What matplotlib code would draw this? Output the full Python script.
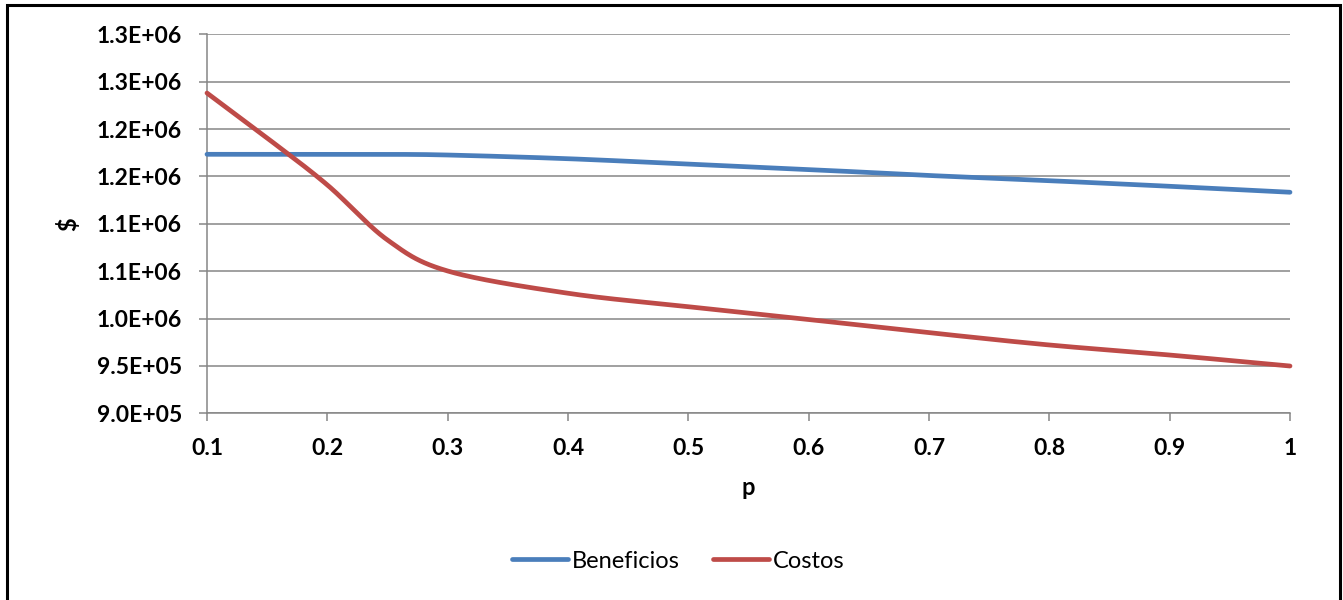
import matplotlib.pyplot as plt
import numpy as np
from matplotlib.patches import Rectangle

# data
p = [0.1, 0.15, 0.2, 0.25, 0.3, 0.4, 0.5, 0.6, 0.7, 0.8, 0.9, 1.0]
beneficios = [1173350, 1173350, 1173350, 1173300, 1172600, 1168700,
              1163000, 1157300, 1151000, 1145500, 1139600, 1133300]
costos = [1238000, 1190500, 1141000, 1082900, 1050200, 1026700,
          1012500, 999000, 985100, 972100, 961500, 949900]

x_ticks = [0.1, 0.2, 0.3, 0.4, 0.5, 0.6, 0.7, 0.8, 0.9, 1.0]
x_labels = ["0.1", "0.2", "0.3", "0.4", "0.5", "0.6", "0.7", "0.8", "0.9", "1"]
y_ticks = [900000, 950000, 1000000, 1050000, 1100000, 1150000, 1200000, 1250000, 1300000]
y_labels = ["9.0E+05", "9.5E+05", "1.0E+06", "1.1E+06", "1.1E+06",
            "1.2E+06", "1.2E+06", "1.3E+06", "1.3E+06"]

FONT = "Lato"
GRID = "#868686"


def smooth_curve(xs, ys, xlim, ylim, width_px, height_px, n=40):
    """Excel-like smoothed line: Catmull-Rom bezier computed in pixel space."""
    u = (np.asarray(xs, float) - xlim[0]) / (xlim[1] - xlim[0]) * width_px
    v = (np.asarray(ys, float) - ylim[0]) / (ylim[1] - ylim[0]) * height_px
    pts = np.column_stack([u, v])
    out = [pts[0]]
    t = np.linspace(0, 1, n)[1:, None]
    for i in range(len(pts) - 1):
        p0 = pts[max(i - 1, 0)]
        p1 = pts[i]
        p2 = pts[i + 1]
        p3 = pts[min(i + 2, len(pts) - 1)]
        c1 = p1 + (p2 - p0) / 6.0
        c2 = p2 - (p3 - p1) / 6.0
        seg = ((1 - t) ** 3) * p1 + 3 * ((1 - t) ** 2) * t * c1 + 3 * (1 - t) * t ** 2 * c2 + t ** 3 * p2
        out.extend(seg)
    out = np.array(out)
    sx = out[:, 0] / width_px * (xlim[1] - xlim[0]) + xlim[0]
    sy = out[:, 1] / height_px * (ylim[1] - ylim[0]) + ylim[0]
    return sx, sy


fig = plt.figure(figsize=(13.43, 6.0), dpi=100)
ax = fig.add_axes([207 / 1343, 1 - 413.3 / 600, (1290 - 207) / 1343, (413.3 - 34.3) / 600])

xlim = (0.1, 1.0)
ylim = (900000, 1300000)
ax.set_xlim(*xlim)
ax.set_ylim(*ylim)

for values, color, label in [(beneficios, "#4A7EBB", "Beneficios"), (costos, "#BE4B48", "Costos")]:
    sx, sy = smooth_curve(p, values, xlim, ylim, 1083, 379)
    ax.plot(sx, sy, color=color, lw=3.4, solid_capstyle="round", label=label, clip_on=False, zorder=3)

ax.set_xticks(x_ticks)
ax.set_xticklabels(x_labels)
ax.set_yticks(y_ticks)
ax.set_yticklabels(y_labels)
for lab in ax.get_xticklabels() + ax.get_yticklabels():
    lab.set_fontfamily(FONT)
    lab.set_fontweight("bold")
    lab.set_fontsize(16.5)

ax.grid(axis="y", color=GRID, lw=1.1)
ax.set_axisbelow(True)
for side in ["top", "right"]:
    ax.spines[side].set_visible(False)
for side in ["left", "bottom"]:
    ax.spines[side].set_color(GRID)
    ax.spines[side].set_linewidth(1.1)
ax.tick_params(axis="both", direction="out", length=6, width=1.1, color=GRID)
ax.tick_params(axis="y", pad=12)
ax.tick_params(axis="x", pad=12)

ax.set_xlabel("p", fontfamily=FONT, fontweight="bold", fontsize=17, labelpad=12)
ax.set_ylabel("$", fontfamily=FONT, fontweight="bold", fontsize=17, labelpad=12)

leg = fig.legend(loc="center", bbox_to_anchor=(678 / 1343, 1 - 561 / 600), ncol=2, frameon=False,
                 prop={"family": FONT, "size": 17}, handlelength=2.4, handletextpad=0.15,
                 columnspacing=1.4)

# black chart border (bottom edge lies outside the image)
fig.patches.append(Rectangle((7 / 1343, -0.1), (1340 - 7) / 1343, 1.1 - 5 / 600,
                             transform=fig.transFigure, fill=False, ec="black", lw=2.2))

fig.savefig("out.png", dpi=100)
